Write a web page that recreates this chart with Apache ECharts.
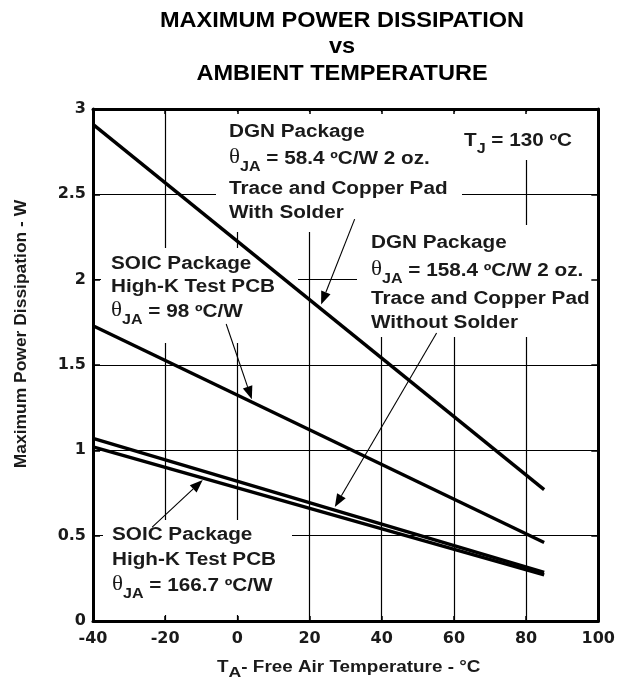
<!DOCTYPE html>
<html><head><meta charset="utf-8">
<script src="https://cdn.jsdelivr.net/npm/echarts@6/dist/echarts.min.js"></script>
<style>html,body{margin:0;padding:0;background:#fff}#c{width:618px;height:681px}</style>
</head><body><div id="c"></div>
<script>
// ---- data ----
const temps = [-40, 85];
const dgnWithSolder = [2.91, 0.77];
const soic98 = [1.73, 0.46];
const dgnWithoutSolder = [1.07, 0.285];
const soic166 = [1.02, 0.27];
const xTickLabels = ['-40','-20','0','20','40','60','80','100'];
const yTickLabels = ['0','0.5','1','1.5','2','2.5','3'];
const titleLines = ['MAXIMUM POWER DISSIPATION', 'vs', 'AMBIENT TEMPERATURE'];
// arrow start / tip in data coords
const arrowStarts = [[32.5, 2.355], [-3.1, 1.74], [55.2, 1.687], [-23.6, 0.55]];
const arrowTips   = [[23.2, 1.855], [4.0, 1.30], [27, 0.668], [-9.6, 0.826]];

const INK = '#1a1a1a';
const chart = echarts.init(document.getElementById('c'), null, {renderer: 'canvas'});
const mk = arr => temps.map((t, i) => [t, arr[i]]);
const lineSeries = arr => ({type: 'line', data: mk(arr), symbol: 'none', silent: true, z: 2,
  lineStyle: {color: '#000', width: 3.4}, animation: false});

const tickFont = {fontFamily: 'DejaVu Sans', fontWeight: 'bold', fontSize: 16, color: INK};
const axisLineStyle = {show: true, onZero: false, lineStyle: {color: '#000', width: 3}};

chart.setOption({
  animation: false,
  grid: {left: 93, right: 14, top: 109, bottom: 60},
  xAxis: [
    {type: 'value', min: -40, max: 100, interval: 20, position: 'bottom', z: 0,
     axisLine: axisLineStyle,
     axisTick: {show: true, inside: true, length: 5, lineStyle: {color: '#000', width: 1.5}},
     axisLabel: Object.assign({margin: 10, formatter: v => xTickLabels[Math.round((v + 40) / 20)]}, tickFont),
     splitLine: {show: true, lineStyle: {color: '#000', width: 1.2}}},
    {type: 'value', min: -40, max: 100, interval: 20, position: 'top', z: 3,
     axisLine: axisLineStyle,
     axisTick: {show: true, inside: true, length: 5, lineStyle: {color: '#000', width: 1.5}},
     axisLabel: {show: false}, splitLine: {show: false}}
  ],
  yAxis: [
    {type: 'value', min: 0, max: 3, interval: 0.5, position: 'left', z: 0,
     axisLine: axisLineStyle,
     axisTick: {show: true, inside: true, length: 7, lineStyle: {color: '#000', width: 1.5}},
     axisLabel: Object.assign({margin: 7, formatter: v => yTickLabels[Math.round(v * 2)]}, tickFont),
     splitLine: {show: true, lineStyle: {color: '#000', width: 1.2}}},
    {type: 'value', min: 0, max: 3, interval: 0.5, position: 'right', z: 3,
     axisLine: axisLineStyle,
     axisTick: {show: true, inside: true, length: 7, lineStyle: {color: '#000', width: 1.5}},
     axisLabel: {show: false}, splitLine: {show: false}}
  ],
  series: [lineSeries(dgnWithSolder), lineSeries(soic98), lineSeries(dgnWithoutSolder), lineSeries(soic166)]
});

// ---- annotations ----
const ctx = document.createElement('canvas').getContext('2d');
function tw(t, fw, fs, fam) { ctx.font = fw + ' ' + fs + 'px "' + fam + '"'; return ctx.measureText(t).width; }
const els = [];
const SANS = 'Liberation Sans', SERIF = 'Liberation Serif';
function textLine(x, baseline, segs, scale) {
  let cx = x;
  segs.forEach(s => {
    const fs = s.size || 18, fam = s.family || SANS, fw = s.weight || 'bold';
    els.push({type: 'text', x: cx, y: baseline + (s.dy || 0) - 0.35 * fs, scaleX: scale, z: 4, silent: true,
      style: {text: s.t, fontSize: fs, fontFamily: fam, fontWeight: fw, fill: INK, align: 'left', verticalAlign: 'middle'}});
    cx += tw(s.t, fw, fs, fam) * scale;
  });
}
const S = 1.15;
const theta = (rest) => [{t: 'θ', family: SERIF, weight: 'normal', size: 20}, {t: 'JA', size: 14, dy: 7}, {t: rest}];
function box(x1, y1, x2, y2) {
  els.push({type: 'rect', z: 1, silent: true, shape: {x: x1, y: y1, width: x2 - x1, height: y2 - y1}, style: {fill: '#fff'}});
}
box(216, 112, 462, 232);
box(454, 112, 603, 160);
box(357, 225, 603, 337);
box(101, 248, 298, 343);
box(103, 520, 292, 615);

textLine(229, 138, [{t: 'DGN Package'}], S);
textLine(229, 165, theta(' = 58.4 ºC/W 2 oz.'), S);
textLine(229, 195, [{t: 'Trace and Copper Pad'}], S);
textLine(229, 219, [{t: 'With Solder'}], S);

textLine(464, 147, [{t: 'T'}, {t: 'J', size: 14, dy: 7}, {t: ' = 130 ºC'}], S);

textLine(371, 249, [{t: 'DGN Package'}], S);
textLine(371, 277, theta(' = 158.4 ºC/W 2 oz.'), S);
textLine(371, 305, [{t: 'Trace and Copper Pad'}], S);
textLine(371, 329, [{t: 'Without Solder'}], S);

textLine(111, 270, [{t: 'SOIC Package'}], S);
textLine(111, 293, [{t: 'High-K Test PCB'}], S);
textLine(111, 318, theta(' = 98 ºC/W'), S);

textLine(112, 541, [{t: 'SOIC Package'}], S);
textLine(112, 566, [{t: 'High-K Test PCB'}], S);
textLine(112, 592, theta(' = 166.7 ºC/W'), S);

// x axis title
textLine(217, 673, [{t: 'T', size: 16}, {t: 'A', size: 15, dy: 5}, {t: '- Free Air Temperature - °C', size: 16}], 1.18);

// title
titleLines.forEach((t, i) => {
  els.push({type: 'text', x: 342, y: [29, 55, 82][i] - 0.35 * 22, scaleX: 1.07, z: 4, silent: true,
    style: {text: t, fontSize: 22, fontFamily: SANS, fontWeight: 'bold', fill: '#000', align: 'center', verticalAlign: 'middle'}});
});
// y axis title
els.push({type: 'text', x: 22, y: 334, rotation: Math.PI / 2, scaleX: 1.09, z: 4, silent: true,
  style: {text: 'Maximum Power Dissipation - W', fontSize: 16, fontFamily: SANS, fontWeight: 'bold', fill: INK, align: 'center', verticalAlign: 'middle'}});

// arrows
arrowStarts.forEach((st, i) => {
  const p0 = chart.convertToPixel({xAxisIndex: 0, yAxisIndex: 0}, st);
  const p1 = chart.convertToPixel({xAxisIndex: 0, yAxisIndex: 0}, arrowTips[i]);
  const dx = p1[0] - p0[0], dy = p1[1] - p0[1], L = Math.hypot(dx, dy);
  const ux = dx / L, uy = dy / L, nx = -uy, ny = ux, hl = 13, hw = 5;
  const bx = p1[0] - ux * hl, by = p1[1] - uy * hl;
  els.push({type: 'line', z: 5, silent: true, shape: {x1: p0[0], y1: p0[1], x2: bx, y2: by}, style: {stroke: '#000', lineWidth: 1.1}});
  els.push({type: 'polygon', z: 5, silent: true, shape: {points: [[p1[0], p1[1]], [bx + nx * hw, by + ny * hw], [bx - nx * hw, by - ny * hw]]}, style: {fill: '#000'}});
});

chart.setOption({graphic: {elements: els}});
</script>
</body></html>
